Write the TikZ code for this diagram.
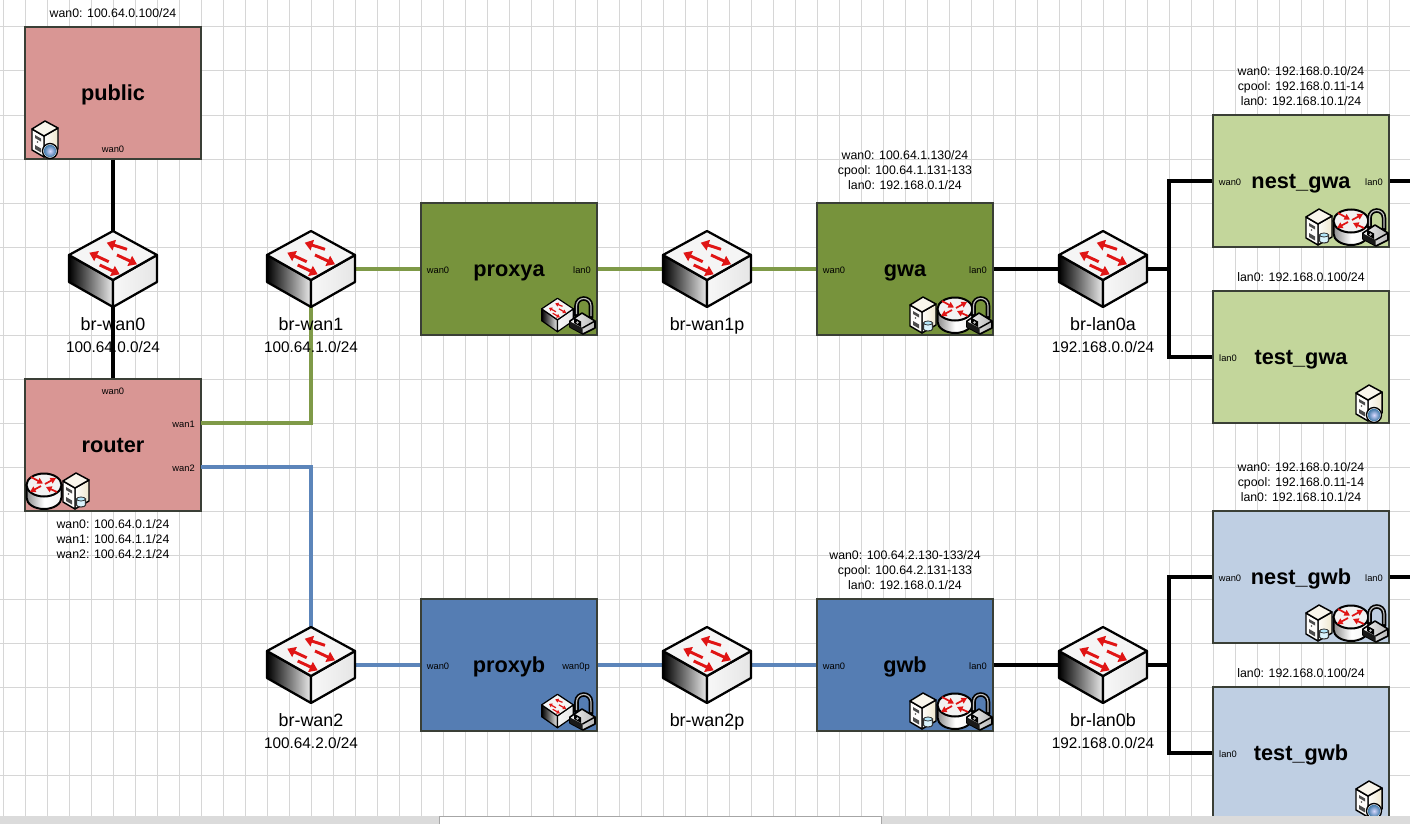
\documentclass[tikz,border=0pt]{standalone}
\usepackage{fontspec}
\setmainfont{Liberation Sans}
\usetikzlibrary{arrows.meta}
\definecolor{gridc}{HTML}{D6D6D6}
\definecolor{boxborder}{HTML}{3A3F36}
\definecolor{redbox}{HTML}{D99694}
\definecolor{greenbox}{HTML}{77933C}
\definecolor{lgreenbox}{HTML}{C3D69B}
\definecolor{bluebox}{HTML}{557DB3}
\definecolor{lbluebox}{HTML}{BFCFE3}
\definecolor{greenline}{HTML}{7F9A48}
\definecolor{blueline}{HTML}{5C85BA}
\definecolor{arrowred}{HTML}{E01515}
\definecolor{cream}{HTML}{EFE8CF}
\newcommand\swdraw[4]{%
  \path[draw=black,line width=#1,line join=round,left color=black,right color=white!92!black]
    (-44,-14) -- (0,11) -- (0,38) -- (-44,13) -- cycle;
  \path[draw=black,line width=#1,line join=round,left color=white!97!black,right color=white!90!black]
    (0,11) -- (44,-14) -- (44,13) -- (0,38) -- cycle;
  \path[draw=black,line width=#1,line join=round,fill=white!96!black]
    (0,-38) -- (44,-14) -- (0,11) -- (-44,-14) -- cycle;
  \begin{scope}[draw=arrowred,line width=#4,-{Triangle[length=#2,width=#3,fill=arrowred]}]
    \draw (14,-19.7) -- (-6.3,-26.3);
    \draw (-4.3,-7.3) -- (-23.7,-16.3);
    \draw (4,-14) -- (24,-4.7);
    \draw (-13.3,-4) -- (6.7,5.3);
  \end{scope}}
\newcommand\srvbase{%
  \path[draw=black,line width=1.1pt,line join=round,left color=white!90!cream,right color=cream] (12,15) -- (26,7) -- (26,28) -- (12,36) -- cycle;
  \path[draw=black,line width=1.1pt,line join=round,fill=white!92!cream] (0,8) -- (12,15) -- (12,36) -- (0,29) -- cycle;
  \path[draw=black,line width=1.1pt,line join=round,fill=white!60!cream] (13,0) -- (26,7) -- (12,15) -- (0,8) -- cycle;
  \fill[black!70] (3,14) -- (9,17.5) -- (9,20.5) -- (3,17) -- cycle;
  \fill[black!70] (5.5,21) circle (.8);
  \fill[black!70] (3,24) -- (9,27.5) -- (9,31.5) -- (3,28) -- cycle;}
\tikzset{
  px/.style={x=.75pt,y=-.75pt},
  gridline/.style={draw=gridc,line width=.75pt},
  boxn/.style={draw=boxborder,line width=1pt,minimum width=132pt,minimum height=99pt,inner sep=0pt,
    font=\fontsize{16.3}{18}\selectfont\bfseries,text height=1.26em,text depth=.2em},
  portn/.style={font=\fontsize{7}{8}\selectfont,inner sep=0pt,text height=.72em,text depth=0pt,text=black},
  addrn/.style={font=\fontsize{9.25}{11.25}\selectfont,inner sep=0pt,align=center,text=black},
  brname/.style={font=\fontsize{13.4}{15}\selectfont,inner sep=0pt,text height=.72em,text depth=.2em},
  brnet/.style={font=\fontsize{11.5}{13}\selectfont,inner sep=0pt,text height=.72em,text depth=.2em},
  swnode/.style={minimum width=66pt,minimum height=57pt,inner sep=0pt},
  conn/.style={line width=2.3pt,line join=miter},
  connblack/.style={conn,draw=black},
  conngreen/.style={conn,draw=greenline},
  connblue/.style={conn,draw=blueline},
  swicon/.pic={\swdraw{1.7pt}{6pt}{8pt}{2.2pt}},
  swsmall/.pic={\swdraw{.9pt}{2.4pt}{3pt}{.9pt}},
  srvglobe/.pic={\srvbase
    \path[draw=black,line width=1pt,fill=white] (18,30) circle (7.5);
    \shade[inner color=blue!15!white,outer color=blue!45!cyan!55!black!75!white] (18,30) circle (6.2);},
  srvcyl/.pic={\srvbase
    \path[draw=black!80,line width=.8pt,fill=cyan!15!white] (13.5,26) -- (13.5,32) arc[start angle=180,end angle=360,x radius=4.5,y radius=-2] -- (22.5,26) -- cycle;
    \path[draw=black!80,line width=.6pt,fill=cyan!30!white] (18,26) ellipse[x radius=4.5,y radius=2];},
  rtricon/.pic={
    \path[draw=black,line width=1.5pt,left color=black!45,right color=white!95!black,middle color=white]
      (.5,12) -- (.5,24.5) arc[start angle=180,end angle=360,x radius=17.5,y radius=-11.5] -- (35.5,12) -- cycle;
    \path[draw=black,line width=1.5pt,fill=white!95!black] (18,12) ellipse[x radius=17.5,y radius=11.5];
    \begin{scope}[draw=arrowred,line width=1.3pt,-{Triangle[length=4.2pt,width=4.6pt,fill=arrowred]}]
      \draw (5,4) -- (17,10.5);
      \draw (31,19) -- (20,14);
      \draw (19,11) -- (30,5);
      \draw (15,13) -- (4,19);
    \end{scope}},
  lockicon/.pic={
    \draw[black,line width=3.4pt,line cap=round] (6.5,19) -- (6.5,9) .. controls (6.5,-1) and (21,-1) .. (21,9) -- (21,21);
    \draw[white!75!black,line width=.9pt] (6.5,17) -- (6.5,9) .. controls (6.5,-1) and (21,-1) .. (21,9) -- (21,19);
    \path[draw=black,line width=1.2pt,line join=round,left color=white!95!black,right color=white!72!black] (0,24) -- (12,16) -- (25,24) -- (25,31) -- (13,37) -- (0,30) -- cycle;
    \path[fill=black!90] (0,24.5) -- (12.5,31) -- (12.5,36.5) -- (0,30) -- cycle;
    \draw[black,line width=1.1pt] (12.5,31) -- (25,24);
    \path[fill=black] (4,20.5) -- (11,24.5) -- (11,30) -- (4,26) -- cycle;
    \fill[white!75!black] (7.5,25.5) circle (1.3);},
}
\begin{document}
\begin{tikzpicture}[px]
\useasboundingbox (0,0) rectangle (1410,824);
\fill[white] (0,0) rectangle (1410,824);
% grid
\foreach \k in {0,...,63} {\draw[gridline] ({3+22*\k},0) -- ({3+22*\k},824);}
\foreach \k in {0,...,18} {\draw[gridline] (0,{27+44*\k}) -- (1410,{27+44*\k});}
% boxes
\node[boxn,fill=redbox] (public) at (113,93) {public};
\node[boxn,fill=redbox] (router) at (113,445) {router};
\node[boxn,fill=greenbox] (proxya) at (509,269) {proxya};
\node[boxn,fill=greenbox] (gwa) at (905,269) {gwa};
\node[boxn,fill=lgreenbox] (nestgwa) at (1301,181) {nest\_gwa};
\node[boxn,fill=lgreenbox] (testgwa) at (1301,357) {test\_gwa};
\node[boxn,fill=bluebox] (proxyb) at (509,665) {proxyb};
\node[boxn,fill=bluebox] (gwb) at (905,665) {gwb};
\node[boxn,fill=lbluebox] (nestgwb) at (1301,577) {nest\_gwb};
\node[boxn,fill=lbluebox] (testgwb) at (1301,753) {test\_gwb};
% switch nodes
\node[swnode] (brwan0) at (113,269) {};
\node[swnode] (brwan1) at (311,269) {};
\node[swnode] (brwan1p) at (707,269) {};
\node[swnode] (brlan0a) at (1103,269) {};
\node[swnode] (brwan2) at (311,665) {};
\node[swnode] (brwan2p) at (707,665) {};
\node[swnode] (brlan0b) at (1103,665) {};
% free ends and junctions
\coordinate (rwan1) at (201,423);
\coordinate (rwan2) at (201,467);
\coordinate (jas) at (1169,269);
\coordinate (jbs) at (1169,665);
\coordinate (outa) at (1410,181);
\coordinate (outb) at (1410,577);
% connectors
\draw[connblack] (public.south) -- (brwan0.center) -- (router.north);
\draw[conngreen] (rwan1) -| (brwan1.center);
\draw[connblue] (rwan2) -| (brwan2.center);
\draw[conngreen] (brwan1.center) -- (proxya.west);
\draw[conngreen] (proxya.east) -- (brwan1p.center);
\draw[conngreen] (brwan1p.center) -- (gwa.west);
\draw[connblue] (brwan2.center) -- (proxyb.west);
\draw[connblue] (proxyb.east) -- (brwan2p.center);
\draw[connblue] (brwan2p.center) -- (gwb.west);
\draw[connblack] (gwa.east) -- (brlan0a.center);
\draw[connblack] (gwb.east) -- (brlan0b.center);
\draw[connblack] (brlan0a.center) -- (jas);
\draw[connblack] (brlan0b.center) -- (jbs);
\draw[connblack] (nestgwa.west) -| (jas) |- (testgwa.west);
\draw[connblack] (nestgwb.west) -| (jbs) |- (testgwb.west);
\draw[connblack] (nestgwa.east) -- (outa);
\draw[connblack] (nestgwb.east) -- (outb);
% switch icons
\foreach \sx/\sy in {113/269,311/269,707/269,1103/269,311/665,707/665,1103/665} {\pic at (\sx,\sy) {swicon};}
% box icons
\pic at (32,121) {srvglobe};
\pic at (1356,385) {srvglobe};
\pic at (1356,781) {srvglobe};
\pic at (63,473) {srvcyl};
\pic at (26,473) {rtricon};
\foreach \ix/\iy in {910/297,1306/209,910/693,1306/605} {
  \pic at (\ix,\iy) {srvcyl};
  \pic at ({\ix+27},\iy) {rtricon};
  \pic at ({\ix+57},\iy) {lockicon};
}
\pic[xscale=.36,yscale=.44] at (557.5,315) {swsmall};
\pic at (570,297) {lockicon};
\pic[xscale=.36,yscale=.44] at (557.5,711) {swsmall};
\pic at (570,693) {lockicon};
% port labels
\node[portn] (lp1) at (113,147.5) {wan0};
\node[portn] (lp2) at (113,389.5) {wan0};
\node[portn,anchor=east] (lp3) at (195,422.5) {wan1};
\node[portn,anchor=east] (lp4) at (195,466.5) {wan2};
\node[portn] (lp5) at (438,268.5) {wan0};
\node[portn] (lp6) at (582,268.5) {lan0};
\node[portn] (lp7) at (834,268.5) {wan0};
\node[portn] (lp8) at (978,268.5) {lan0};
\node[portn] (lp9) at (1230,180.5) {wan0};
\node[portn] (lp10) at (1374,180.5) {lan0};
\node[portn] (lp11) at (1228,356.5) {lan0};
\node[portn] (lp12) at (438,664.5) {wan0};
\node[portn] (lp13) at (576,664.5) {wan0p};
\node[portn] (lp14) at (834,664.5) {wan0};
\node[portn] (lp15) at (978,664.5) {lan0};
\node[portn] (lp16) at (1230,576.5) {wan0};
\node[portn] (lp17) at (1374,576.5) {lan0};
\node[portn] (lp18) at (1228,752.5) {lan0};
% address labels
\node[addrn] (ad1) at (113,13) {wan0: 100.64.0.100/24};
\node[addrn] (ad2) at (113,539) {wan0: 100.64.0.1/24\\wan1: 100.64.1.1/24\\wan2: 100.64.2.1/24};
\node[addrn] (ad3) at (905,170) {wan0: 100.64.1.130/24\\cpool: 100.64.1.131-133\\lan0: 192.168.0.1/24};
\node[addrn] (ad4) at (1301,86) {wan0: 192.168.0.10/24\\cpool: 192.168.0.11-14\\lan0: 192.168.10.1/24};
\node[addrn] (ad5) at (1301,277) {lan0: 192.168.0.100/24};
\node[addrn] (ad6) at (905,570) {wan0: 100.64.2.130-133/24\\cpool: 100.64.2.131-133\\lan0: 192.168.0.1/24};
\node[addrn] (ad7) at (1301,482) {wan0: 192.168.0.10/24\\cpool: 192.168.0.11-14\\lan0: 192.168.10.1/24};
\node[addrn] (ad8) at (1301,673) {lan0: 192.168.0.100/24};
% switch labels
\node[brname] (nm1) at (113,327) {br-wan0};
\node[brnet] (nt1) at (113,349) {100.64.0.0/24};
\node[brname] (nm2) at (311,327) {br-wan1};
\node[brnet] (nt2) at (311,349) {100.64.1.0/24};
\node[brname] (nm3) at (707,327) {br-wan1p};
\node[brname] (nm4) at (1103,327) {br-lan0a};
\node[brnet] (nt4) at (1103,349) {192.168.0.0/24};
\node[brname] (nm5) at (311,723) {br-wan2};
\node[brnet] (nt5) at (311,745) {100.64.2.0/24};
\node[brname] (nm6) at (707,723) {br-wan2p};
\node[brname] (nm7) at (1103,723) {br-lan0b};
\node[brnet] (nt7) at (1103,745) {192.168.0.0/24};
% bottom bar
\fill[black!14] (0,816) rectangle (1410,824);
\path[fill=white,draw=black!35,line width=.8pt] (439.5,825) -- (439.5,816.5) -- (881.5,816.5) -- (881.5,825);
\end{tikzpicture}
\end{document}
